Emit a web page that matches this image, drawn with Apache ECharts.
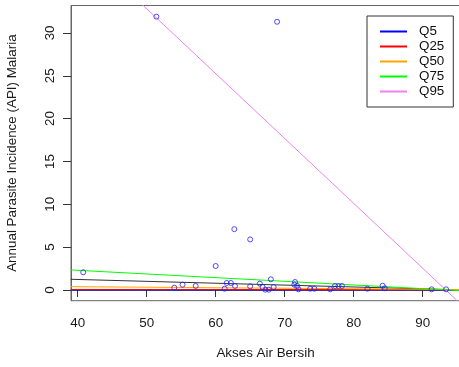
<!DOCTYPE html>
<html>
<head>
<meta charset="utf-8">
<script src="https://cdn.jsdelivr.net/npm/echarts@6/dist/echarts.min.js"></script>
<style>html,body{margin:0;padding:0;background:#fff}#c{width:459px;height:367px}</style>
</head>
<body>
<div id="c"></div>
<script>
// Observed points (Akses Air Bersih vs API Malaria)
var pointX = [40.8, 51.4, 54.0, 55.2, 57.1, 60.0, 61.3, 61.6, 62.2, 62.7, 62.8, 65.0, 65.0, 66.4, 66.8, 67.2, 67.7, 68.0, 68.4, 68.9, 71.4, 71.5, 71.8, 72.0, 73.7, 74.3, 76.6, 77.3, 77.8, 78.3, 82.0, 84.2, 84.5, 91.3, 93.4];
var pointY = [2.07, 31.9, 0.27, 0.62, 0.47, 2.8, 0.15, 0.82, 0.82, 7.1, 0.47, 5.9, 0.43, 0.74, 0.35, 0.04, 0.04, 1.25, 0.35, 31.3, 0.62, 0.93, 0.47, 0.08, 0.15, 0.15, 0.08, 0.47, 0.47, 0.47, 0.15, 0.5, 0.2, 0.08, 0.08];
// Quantile regression lines: value at the two ends x = 39 and x = 96
var lineEndsX = [39, 96];
var q5 = [0.0, 0.0];
var q25 = [0.06, 0.03];
var q50 = [0.39, 0.05];
var q75 = [2.34, -0.10];
var q95 = [41.15, -2.0];
var fitLine = [1.25, 0.0];
var xTicks = [40, 50, 60, 70, 80, 90];
var yTicks = [0, 5, 10, 15, 20, 25, 30];

function pairs(ys){ return lineEndsX.map(function(x,i){return [x, ys[i]];}); }
var scatterData = pointX.map(function(x,i){return [x, pointY[i]];});

var font = '"Liberation Sans", Arial, sans-serif';
var chart = echarts.init(document.getElementById('c'), null, {renderer:'canvas'});
function lineSeries(name, ys, color, z){
  return {name:name, type:'line', data:pairs(ys), symbol:'none', clip:true, z:z||2,
    lineStyle:{color:color, width:1}, itemStyle:{color:color}, emphasis:{disabled:true}, silent:true};
}
chart.setOption({
  animation:false,
  backgroundColor:'#fff',
  grid:{left:71, top:5.5, right:-1, bottom:66.3, outerBoundsMode:'none', containLabel:false,
    show:true, borderColor:'#666', borderWidth:1, backgroundColor:'transparent'},
  xAxis:{type:'value', min:39.03, max:95.41,
    name:'Akses Air Bersih', nameLocation:'middle', nameGap:46,
    nameTextStyle:{fontFamily:font, fontSize:13.4, color:'#1a1a1a'},
    axisLine:{show:true, lineStyle:{color:'#666'}},
    axisTick:{show:true, length:7, customValues:xTicks, lineStyle:{color:'#333'}},
    axisLabel:{customValues:xTicks, margin:16, fontFamily:font, fontSize:13.4, color:'#1a1a1a'},
    splitLine:{show:false}},
  yAxis:{type:'value', min:-1.25, max:33.2,
    name:'Annual Parasite Incidence (API) Malaria', nameLocation:'middle', nameGap:52,
    nameTextStyle:{fontFamily:font, fontSize:13.4, color:'#1a1a1a'},
    axisLine:{show:true, lineStyle:{color:'#666'}},
    axisTick:{show:true, length:8, customValues:yTicks, lineStyle:{color:'#333'}},
    axisLabel:{customValues:yTicks, rotate:90, margin:14, fontFamily:font, fontSize:13.4, color:'#1a1a1a'},
    splitLine:{show:false}},
  legend:{data:['Q5','Q25','Q50','Q75','Q95'], orient:'vertical', left:367, top:16,
    padding:[8,9,8,13], itemGap:0, itemWidth:27, itemHeight:2, icon:'rect',
    borderColor:'#333', borderWidth:1, backgroundColor:'#fff',
    textStyle:{fontFamily:font, fontSize:13.4, color:'#111', lineHeight:15, padding:[0,0,0,7]}},
  series:[
    {type:'scatter', data:scatterData, symbol:'circle', symbolSize:5, z:5, silent:true,
      itemStyle:{color:'transparent', borderColor:'#2020ff', borderWidth:1}},
    lineSeries('', fitLine, '#333', 3),
    lineSeries('Q5', q5, '#0000ff', 3),
    lineSeries('Q25', q25, '#ff0000', 3),
    lineSeries('Q50', q50, '#ffa500', 3),
    lineSeries('Q75', q75, '#00ff00', 3),
    lineSeries('Q95', q95, '#ee82ee', 3)
  ]
});
</script>
</body>
</html>
